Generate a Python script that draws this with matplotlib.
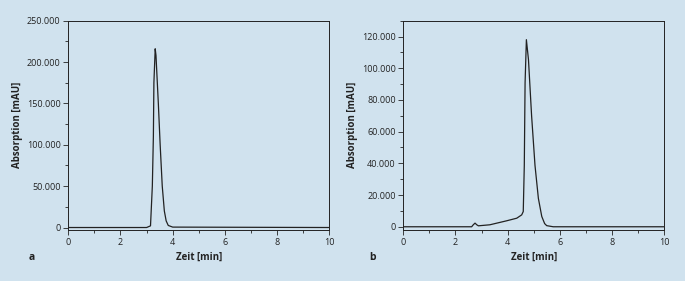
import matplotlib.pyplot as plt
from matplotlib.ticker import FuncFormatter, MultipleLocator

# chromatogram a (time in min, absorption in mAU)
time_a = [0.0, 3.0, 3.15, 3.22, 3.26, 3.28, 3.33, 3.36, 3.40, 3.45, 3.52, 3.60, 3.68, 3.75, 3.83, 4.0, 10.0]
abs_a = [0, 0, 2000, 50000, 110000, 175000, 216000, 208000, 182000, 150000, 100000, 50000, 20000, 8000, 2500, 500, 0]

# chromatogram b
time_b = [0.0, 2.62, 2.68, 2.75, 2.82, 2.88, 3.32, 3.96, 4.35, 4.54, 4.60, 4.64, 4.67, 4.72, 4.80,
          4.92, 5.05, 5.18, 5.31, 5.42, 5.50, 5.75, 10.0]
abs_b = [0, 0, 1200, 2300, 1200, 600, 1250, 3750, 5400, 7500, 9600, 38750, 90800, 118000, 105400,
         70000, 38750, 17900, 6500, 2000, 700, 0, 0]

panels = ["a", "b"]
ymax = [250000, 130000]
ystep = [50000, 20000]

bg = "#d0e2ee"
ink = "#222222"

plt.rcParams['font.family'] = ['Open Sans', 'DejaVu Sans']

fig = plt.figure(figsize=(6.85, 2.81), dpi=100, facecolor=bg)
axes = [fig.add_axes([0.0997, 0.1815, 0.381, 0.745]),
        fig.add_axes([0.5888, 0.1815, 0.3806, 0.745])]

fmt = FuncFormatter(lambda v, p: f"{v:,.0f}".replace(",", "."))

for ax, t, y, name, top, step in zip(axes, [time_a, time_b], [abs_a, abs_b], panels, ymax, ystep):
    ax.set_facecolor(bg)
    ax.plot(t, y, color=ink, lw=0.9)
    ax.set_xlim(0, 10)
    ax.set_ylim(-top * 0.008 - 1000, top)
    ax.xaxis.set_major_locator(MultipleLocator(2))
    ax.xaxis.set_minor_locator(MultipleLocator(1))
    ax.yaxis.set_major_locator(MultipleLocator(step))
    ax.yaxis.set_minor_locator(MultipleLocator(step / 2))
    ax.yaxis.set_major_formatter(fmt)
    ax.tick_params(which='both', direction='out', colors=ink, labelsize=6.5, width=0.6, pad=2)
    ax.tick_params(which='major', length=3.5)
    ax.tick_params(which='minor', length=2)
    for s in ax.spines.values():
        s.set_color(ink)
        s.set_linewidth(0.7)
    ax.set_xlabel("Zeit [min]", fontsize=7, fontweight='bold', color=ink, labelpad=4)
    ax.set_ylabel("Absorption [mAU]", fontsize=7, fontweight='bold', color=ink, labelpad=3)

fig.text(32 / 685, 1 - 258 / 281, "a", fontsize=7.5, fontweight='bold', color=ink, ha='center', va='center')
fig.text(373 / 685, 1 - 258 / 281, "b", fontsize=7.5, fontweight='bold', color=ink, ha='center', va='center')

plt.savefig("out.png", dpi=100, facecolor=bg)
plt.close(fig)
